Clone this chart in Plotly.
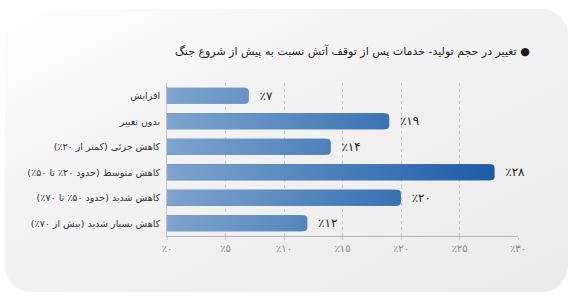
import base64
import plotly.graph_objects as go

# ---------------- data ----------------
categories = [
    "افزایش",
    "بدون تغییر",
    "کاهش جزئی (کمتر از ۲۰٪)",
    "کاهش متوسط (حدود ۲۰٪ تا ۵۰٪)",
    "کاهش شدید (حدود ۵۰٪ تا ۷۰٪)",
    "کاهش بسیار شدید (بیش از ۷۰٪)",
]
values = [7, 19, 14, 28, 20, 12]
value_labels = ["٪۷", "٪۱۹", "٪۱۴", "٪۲۸", "٪۲۰", "٪۱۲"]
tick_vals = [0, 5, 10, 15, 20, 25, 30]
tick_labels = ["٪۰", "٪۵", "٪۱۰", "٪۱۵", "٪۲۰", "٪۲۵", "٪۳۰"]
title_text = "تغییر در حجم تولید- خدمات پس از توقف آتش نسبت به پیش از شروع جنگ"

# ---------------- layout constants ----------------
W, H = 578, 298
L, R, T, B = 167, 60, 83, 62
PW, PH = W - L - R, H - T - B
XMAX = 30
BAR_W = 0.63
C0 = (127, 164, 205)   # gradient colour at 0%
C1 = (20, 87, 165)     # gradient colour at 30%
FONT = "DejaVu Sans"
RLM = "\u200f"


def grad(v):
    f = max(0.0, min(1.0, v / XMAX))
    c = [round(a + (b - a) * f) for a, b in zip(C0, C1)]
    return "rgb(%d,%d,%d)" % tuple(c)


ypos = list(range(len(categories)))
fig = go.Figure()

# rounded bars (colour of their tip)
fig.add_trace(go.Bar(
    x=values, y=ypos, orientation="h", width=BAR_W,
    marker=dict(color=[grad(v) for v in values], line=dict(width=0), cornerradius=4),
    text=["  " + t for t in value_labels], textposition="outside",
    textfont=dict(family=FONT, size=12, color="#222222"),
    cliponaxis=False, hoverinfo="skip",
))

# gradient body of each bar
tip = 5 * XMAX / PW  # ~5px in data units
for yv, v in zip(ypos, values):
    x_end = v - tip
    fig.add_trace(go.Scatter(
        x=[0, x_end, x_end, 0, 0],
        y=[yv - BAR_W / 2, yv - BAR_W / 2, yv + BAR_W / 2, yv + BAR_W / 2, yv - BAR_W / 2],
        mode="lines", line=dict(width=0), fill="toself",
        fillgradient=dict(type="horizontal", start=0, stop=XMAX,
                          colorscale=[[0, grad(0)], [1, grad(XMAX)]]),
        hoverinfo="skip", showlegend=False,
    ))

# background card as an svg image
svg = (
    '<svg xmlns="http://www.w3.org/2000/svg" width="%d" height="%d">'
    '<defs><linearGradient id="g" x1="0" y1="0" x2="1" y2="1">'
    '<stop offset="0" stop-color="#ffffff"/>'
    '<stop offset="0.35" stop-color="#f3f3f3"/>'
    '<stop offset="1" stop-color="#ebebeb"/>'
    '</linearGradient></defs>'
    '<rect x="5" y="9" width="563" height="283" rx="26" ry="26" fill="url(#g)"/>'
    '</svg>' % (W, H)
)
src = "data:image/svg+xml;base64," + base64.b64encode(svg.encode()).decode()

fig.update_layout(
    width=W, height=H,
    margin=dict(l=L, r=R, t=T, b=B, pad=0),
    paper_bgcolor="#ffffff", plot_bgcolor="rgba(0,0,0,0)",
    showlegend=False,
    font=dict(family=FONT, color="#222222"),
    images=[dict(source=src, xref="paper", yref="paper",
                 x=-L / PW, y=1 + T / PH, sizex=W / PW, sizey=H / PH,
                 xanchor="left", yanchor="top", sizing="stretch", layer="below")],
    xaxis=dict(
        range=[0, XMAX], tickvals=tick_vals, ticktext=tick_labels,
        showgrid=True, gridcolor="#c8c8c8", griddash="3px,3px", gridwidth=1,
        zeroline=False, showline=True, linecolor="#b5b5b5", linewidth=1,
        ticks="outside", ticklen=3, tickcolor="#cccccc",
        tickfont=dict(family=FONT, size=10, color="#8a8a8a"),
        fixedrange=True,
    ),
    yaxis=dict(
        range=[len(categories) - 0.5, -0.5], tickvals=ypos,
        ticktext=[RLM + c + RLM for c in categories],
        showgrid=False, zeroline=False, showline=True, linecolor="#c4c4c4",
        ticks="", ticklabelstandoff=4,
        tickfont=dict(family=FONT, size=9.5, color="#333333"),
        fixedrange=True,
    ),
    annotations=[dict(
        text=RLM + "● " + title_text + RLM,
        xref="paper", yref="paper",
        x=(532 - L) / PW, y=(H - B - 51) / PH,
        xanchor="right", yanchor="middle", showarrow=False,
        font=dict(family=FONT, size=11, color="#1a1a1a"),
    )],
)

fig.write_html("out.html")
